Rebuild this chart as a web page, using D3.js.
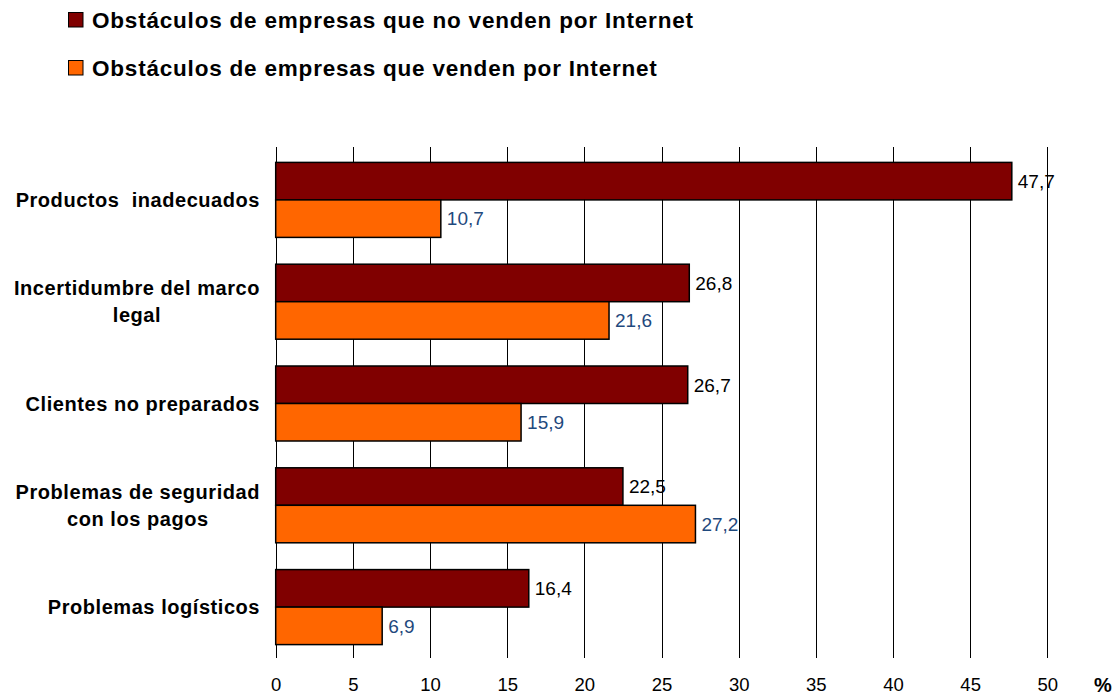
<!DOCTYPE html>
<html>
<head>
<meta charset="utf-8">
<script src="https://cdn.jsdelivr.net/npm/d3@7/dist/d3.min.js"></script>
<style>
  html, body { margin: 0; padding: 0; background: #fff; }
  svg { display: block; font-family: "Liberation Sans", Arial, sans-serif; }
</style>
</head>
<body>
<svg id="chart" width="1117" height="698"></svg>
<script>
// ---- Data ----
const categories = [
  ["Productos  inadecuados"],
  ["Incertidumbre del marco", "legal"],
  ["Clientes no preparados"],
  ["Problemas de seguridad", "con los pagos"],
  ["Problemas logísticos"]
];
const seriesNames = [
  "Obstáculos de empresas que no venden por Internet",
  "Obstáculos de empresas que venden por Internet"
];
const noVenden = [47.7, 26.8, 26.7, 22.5, 16.4];
const venden   = [10.7, 21.6, 15.9, 27.2, 6.9];
const xTicks = [0, 5, 10, 15, 20, 25, 30, 35, 40, 45, 50];
const axisUnit = "%";

// ---- Styles ----
const colors = ["#800000", "#FF6600"];
const labelColors = ["#000000", "#1F497D"];

const svg = d3.select("#chart");
const plotTop = 147, plotBottom = 658;

const x = d3.scaleLinear().domain([0, 50]).range([275.7, 1047.3]);
const y = d3.scaleBand().domain(d3.range(categories.length)).range([149, 658]).padding(0);
const barH = 37.5;

// gridlines
svg.append("g").selectAll("line").data(xTicks).join("line")
  .attr("x1", d => Math.round(x(d)) + 0.5).attr("x2", d => Math.round(x(d)) + 0.5)
  .attr("y1", plotTop).attr("y2", plotBottom)
  .attr("stroke", "#000").attr("stroke-width", 1);

// x tick labels via axis
const xAxis = d3.axisBottom(x).tickValues(xTicks).tickSize(0).tickPadding(0).tickFormat(d3.format("d"));
const gx = svg.append("g").attr("transform", `translate(0, 678)`).call(xAxis);
gx.select(".domain").remove();
gx.selectAll("text").attr("font-size", "18.5px").attr("fill", "#000")
  .attr("font-family", "'Liberation Sans', Arial, sans-serif").attr("dy", "0.71em");

svg.append("text").attr("x", 1103).attr("y", 692).attr("text-anchor", "middle")
  .attr("font-size", "20px").attr("font-weight", "bold").text(axisUnit);

// bars
const series = [noVenden, venden];
series.forEach((vals, si) => {
  const g = svg.append("g");
  g.selectAll("rect").data(vals).join("rect")
    .attr("x", x(0))
    .attr("y", (d, i) => y(i) + y.bandwidth() / 2 - barH + si * barH)
    .attr("width", d => x(d) - x(0))
    .attr("height", barH)
    .attr("fill", colors[si])
    .attr("stroke", "#000").attr("stroke-width", 1.5);
  g.selectAll("text").data(vals).join("text")
    .attr("x", d => x(d) + 6)
    .attr("y", (d, i) => y(i) + y.bandwidth() / 2 - barH / 2 + si * barH)
    .attr("dy", "0.36em")
    .attr("font-size", "19px")
    .attr("fill", labelColors[si])
    .text(d => d3.format(".1f")(d).replace(".", ","));
});

// category labels
const rightEdge = 260;
const lineGap = 27;
categories.forEach((lines, i) => {
  const cy = y(i) + y.bandwidth() / 2;
  const t = svg.append("text")
    .attr("font-size", "20px").attr("font-weight", "bold")
    .attr("letter-spacing", "0.55px")
    .attr("text-anchor", "middle")
    .attr("fill", "#000")
    .style("white-space", "pre");
  lines.forEach((ln, k) => {
    t.append("tspan").attr("x", 0)
      .attr("y", cy + (k - (lines.length - 1) / 2) * lineGap)
      .attr("dy", "0.36em").text(ln);
  });
  let maxW = 0;
  t.selectAll("tspan").each(function() { maxW = Math.max(maxW, this.getComputedTextLength()); });
  t.selectAll("tspan").attr("x", rightEdge - maxW / 2);
});

// legend
const legendY = [12.5, 60.5];
const legendTexts = [];
seriesNames.forEach((name, i) => {
  svg.append("rect").attr("x", 68.5).attr("y", legendY[i]).attr("width", 14.5).attr("height", 14.5)
    .attr("fill", colors[i]).attr("stroke", "#000").attr("stroke-width", 1);
  legendTexts.push(svg.append("text").attr("x", 92).attr("y", legendY[i] + 15)
    .attr("font-size", "22.5px").attr("font-weight", "bold").attr("fill", "#000").text(name));
});
// adjust spacing so the first legend entry spans ~601px, like the reference
const natural = legendTexts[0].node().getComputedTextLength();
const ls = Math.max(0, (601 - natural) / (seriesNames[0].length - 1));
legendTexts.forEach(t => t.attr("letter-spacing", ls + "px"));
</script>
</body>
</html>
